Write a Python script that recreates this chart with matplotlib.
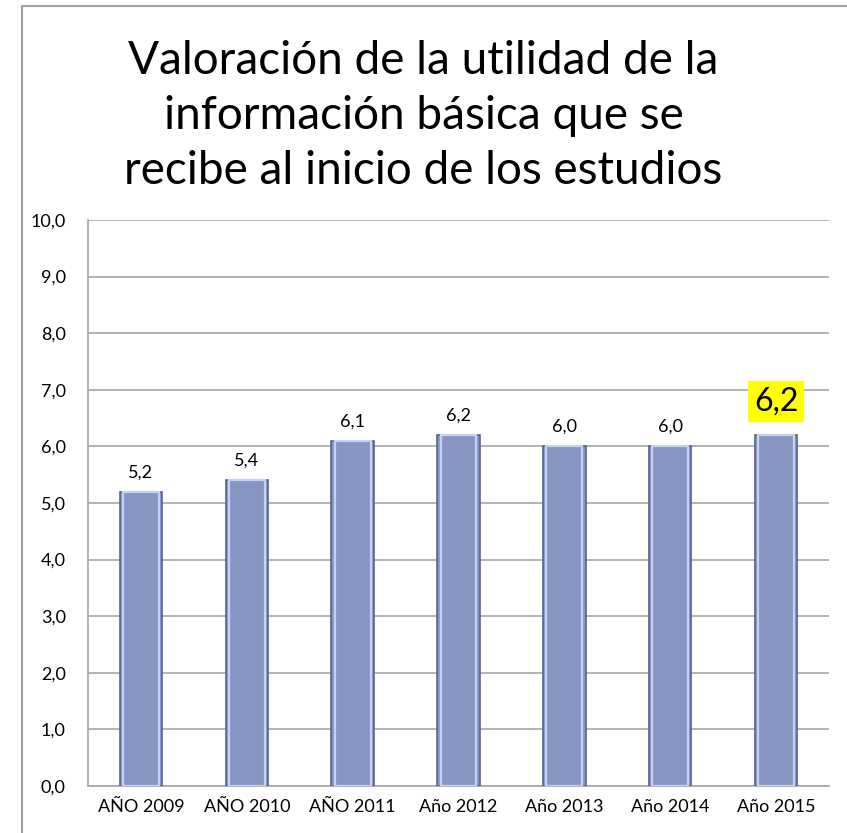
import matplotlib.pyplot as plt
import numpy as np
from matplotlib.lines import Line2D

years = ['AÑO 2009', 'AÑO 2010', 'AÑO 2011', 'Año 2012', 'Año 2013', 'Año 2014', 'Año 2015']
values = [5.2, 5.4, 6.1, 6.2, 6.0, 6.0, 6.2]
yticks = [0, 1, 2, 3, 4, 5, 6, 7, 8, 9, 10]

plt.rcParams['font.family'] = ['Lato', 'DejaVu Sans']

fig = plt.figure(figsize=(8.47, 8.33), dpi=100)
ax = fig.add_axes([88/847, 1-786/833, (829-88)/847, (786-220)/833])

x = np.arange(len(years))
ax.bar(x, values, width=0.4, color='#8795C3', edgecolor='#55638F', linewidth=1.2, zorder=3)
# light inner bevel
ax.bar(x, values, width=0.34, color='none', edgecolor='#C5D2F6', linewidth=1.6, zorder=4)

for i, v in enumerate(values):
    lab = f'{v:.1f}'.replace('.', ',')
    if i == len(values) - 1:
        ax.text(i, v + 0.33, lab, ha='center', va='bottom', fontsize=23,
                bbox=dict(facecolor='#FFFF00', edgecolor='none', pad=4), zorder=5)
    else:
        ax.text(i, v + 0.2, lab, ha='center', va='bottom', fontsize=13, zorder=5)

ax.set_xlim(-0.5, len(years) - 0.5)
ax.set_ylim(0, 10)
ax.set_yticks(yticks)
ax.set_yticklabels([f'{t:.1f}'.replace('.', ',') for t in yticks], fontsize=13)
ax.set_xticks(x)
ax.set_xticklabels(years, fontsize=13)
ax.tick_params(length=0, pad=16)
ax.tick_params(axis='x', pad=9)
ax.grid(axis='y', color='#A6A6A6', linewidth=1.2, zorder=0)
for s in ['top', 'right']:
    ax.spines[s].set_visible(False)
for s in ['left', 'bottom']:
    ax.spines[s].set_color('#A6A6A6')
    ax.spines[s].set_linewidth(1.2)

fig.text(0.5, 1-116/833, 'Valoración de la utilidad de la\ninformación básica que se\nrecibe al inicio de los estudios',
         ha='center', va='center', fontsize=33, linespacing=1.38)

# outer frame
fig.add_artist(Line2D([22/847, 22/847, 1.0], [0.0, 1-6/833, 1-6/833], color='#A0A0A0', linewidth=1.5))

fig.savefig('out.png', dpi=100)
